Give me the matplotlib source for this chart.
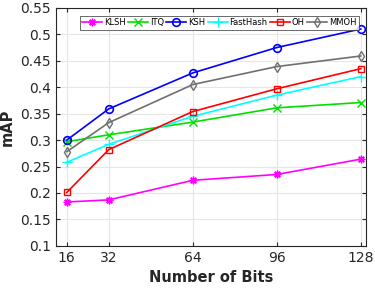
import matplotlib.pyplot as plt

bits = [16, 32, 64, 96, 128]

klsh = [0.183, 0.187, 0.224, 0.235, 0.264]
itq = [0.297, 0.310, 0.334, 0.361, 0.371]
ksh = [0.300, 0.359, 0.427, 0.475, 0.510]
fasthash = [0.258, 0.292, 0.345, 0.385, 0.420]
oh = [0.201, 0.282, 0.354, 0.397, 0.435]
mmoh = [0.278, 0.333, 0.405, 0.439, 0.459]

fig = plt.figure(figsize=(3.75, 2.91), dpi=100)
ax = fig.add_axes([0.150, 0.155, 0.826, 0.818])

ms = 5.5
ax.plot(bits, klsh, color='#ff00ff', marker=(8, 2, 0), ms=ms, lw=1.2, label='KLSH')
ax.plot(bits, itq, color='#00e000', marker='x', ms=ms, lw=1.2, label='ITQ')
ax.plot(bits, ksh, color='#0000ff', marker='o', ms=ms, mfc='none', mew=1.2, lw=1.2, label='KSH')
ax.plot(bits, fasthash, color='#00ffff', marker='+', ms=ms + 1, lw=1.2, label='FastHash')
ax.plot(bits, oh, color='#ff0000', marker='s', ms=ms - 1, mfc='none', lw=1.2, label='OH')
ax.plot(bits, mmoh, color='#707070', marker='d', ms=ms, mfc='none', lw=1.2, label='MMOH')

ax.set_xlim(12, 130)
ax.set_ylim(0.1, 0.55)
ax.set_xticks(bits)
ax.set_yticks([0.1, 0.15, 0.2, 0.25, 0.3, 0.35, 0.4, 0.45, 0.5, 0.55])
ax.set_yticklabels(['0.1', '0.15', '0.2', '0.25', '0.3', '0.35', '0.4', '0.45', '0.5', '0.55'])
ax.tick_params(direction='in', labelsize=10, colors='#262626', length=3, top=True, right=True, pad=4)
ax.grid(True, color='#e6e6e6', lw=0.8)
ax.set_axisbelow(True)
for s in ax.spines.values():
    s.set_color('#262626')
    s.set_linewidth(0.8)

ax.set_xlabel('Number of Bits', fontsize=10.5, fontweight='bold', color='#262626', labelpad=3)
ax.set_ylabel('mAP', fontsize=10.5, fontweight='bold', color='#262626', labelpad=4)

leg = ax.legend(loc='upper right', ncol=6, fontsize=6, handlelength=2.4, handletextpad=0.2,
                columnspacing=0.3, borderpad=0.3, frameon=True, fancybox=False,
                bbox_to_anchor=(0.99, 0.985))
leg.get_frame().set_edgecolor('#262626')
leg.get_frame().set_linewidth(0.6)

fig.savefig('out.png', dpi=100)
